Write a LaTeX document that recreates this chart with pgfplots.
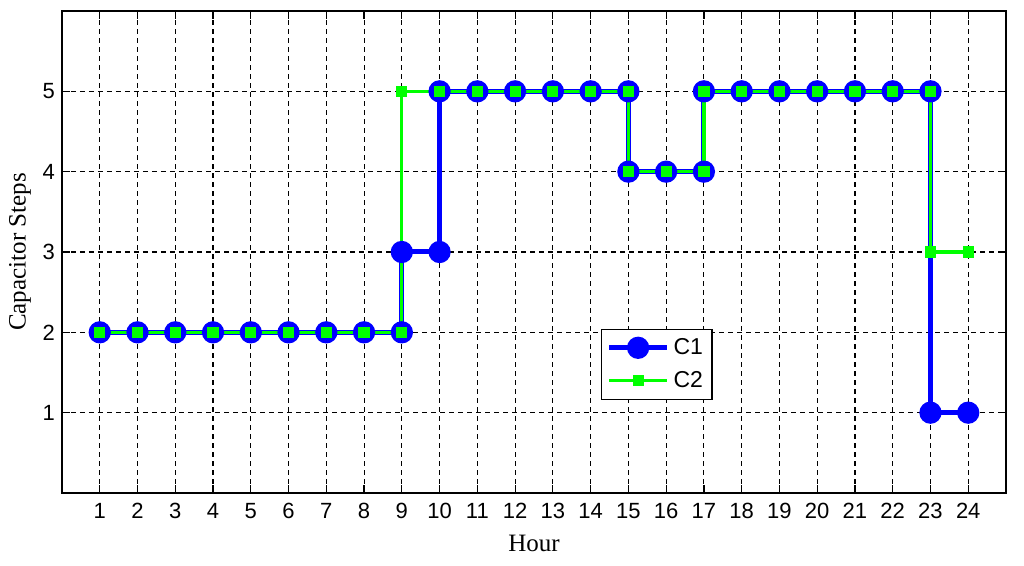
\documentclass[border=0pt]{standalone}
\usepackage{fontspec}
\setmainfont{Liberation Serif}
\setsansfont{Liberation Sans}
\usepackage{pgfplots}
\pgfplotsset{compat=1.18}
\definecolor{cblue}{RGB}{0,0,255}
\definecolor{cgreen}{RGB}{0,255,0}
\begin{document}
\begin{tikzpicture}
\path[use as bounding box] (-31pt,-36.5pt) rectangle (481pt,246.5pt);
\begin{axis}[
  scale only axis,
  width=472pt, height=241pt,
  xmin=0, xmax=25, ymin=0, ymax=6,
  xtick={1,...,24}, ytick={1,...,5},
  tick align=inside,
  xtick pos=both, ytick pos=both,
  major tick length=4pt,
  grid=major,
  major grid style={black, dash pattern=on 2.5pt off 2pt, line width=0.55pt},
  axis line style={black, line width=0.7pt},
  tick style={black, line width=0.6pt},
  /pgf/number format/assume math mode=true,
  tick label style={font=\sffamily\fontsize{11}{12}\selectfont},
  xticklabel style={yshift=-1.5pt},
  xlabel={Hour}, ylabel={Capacitor Steps},
  label style={font=\fontsize{12.5}{14}\selectfont},
  xlabel style={at={(axis description cs:0.5,-0.105)}, anchor=center},
  ylabel style={at={(axis description cs:-0.0445,0.5)}, anchor=center},
  legend style={at={(0.571,0.193)}, anchor=south west, font=\sffamily\fontsize{11.5}{13}\selectfont,
    draw=black, line width=0.6pt, inner sep=2.5pt, row sep=3pt},
  legend cell align=left,
  legend image code/.code={
    \draw[#1] (0pt,0pt) -- (29pt,0pt);
    \draw[#1, only marks] plot coordinates {(14.5pt,0pt)};
  },
]
\addplot[cblue, line width=2.5pt, mark=*, mark size=4.3pt, mark options={solid}] coordinates {
  (1,2) (2,2) (3,2) (4,2) (5,2) (6,2) (7,2) (8,2) (9,2) (9,3) (10,3) (10,5)
  (11,5) (12,5) (13,5) (14,5) (15,5) (15,4) (16,4) (17,4) (17,5)
  (18,5) (19,5) (20,5) (21,5) (22,5) (23,5) (23,1) (24,1)
};
\addlegendentry{C1}
\addplot[cgreen, line width=1.6pt, mark=square*, mark size=2pt] coordinates {
  (1,2) (2,2) (3,2) (4,2) (5,2) (6,2) (7,2) (8,2) (9,2) (9,5) (10,5)
  (11,5) (12,5) (13,5) (14,5) (15,5) (15,4) (16,4) (17,4) (17,5)
  (18,5) (19,5) (20,5) (21,5) (22,5) (23,5) (23,3) (24,3)
};
\addlegendentry{C2}
\end{axis}
\end{tikzpicture}
\end{document}
